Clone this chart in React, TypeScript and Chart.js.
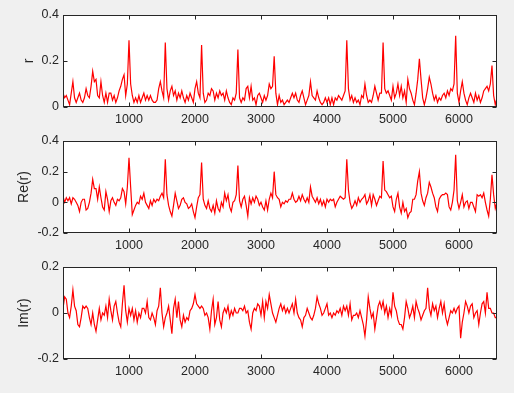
import React, { useEffect, useRef } from "react";
import { Chart, registerables } from "chart.js";

Chart.register(...registerables);

// samples are spaced STEP apart along the x axis (sample index)
const STEP = 25;
const X_MAX = 6576;
const X_TICKS = [1000, 2000, 3000, 4000, 5000, 6000];

const R_TICKS = [0, 0.2, 0.4];
const RE_TICKS = [-0.2, 0, 0.2, 0.4];
const IM_TICKS = [-0.2, 0, 0.2];

// |r|
const R_VALUES = [
  0.06, 0.04, 0.05, 0.03, 0.01, 0.06, 0.11, 0.04, 0.02, 0.04,
  0.06, 0.03, 0.02, 0.04, 0.08, 0.05, 0.04, 0.09, 0.155, 0.11,
  0.12, 0.05, 0.04, 0.11, 0.05, 0.02, 0.06, 0.02, 0.06, 0.06,
  0.03, 0.05, 0.02, 0.04, 0.07, 0.09, 0.12, 0.14, 0.05, 0.10,
  0.29, 0.10, 0.05, 0.02, 0.04, 0.02, 0.05, 0.02, 0.04, 0.06,
  0.03, 0.05, 0.03, 0.05, 0.03, 0.02, 0.02, 0.03, 0.08, 0.11,
  0.07, 0.04, 0.28, 0.08, 0.03, 0.07, 0.09, 0.05, 0.07, 0.03,
  0.06, 0.04, 0.07, 0.04, 0.02, 0.05, 0.03, 0.06, 0.04, 0.02,
  0.08, 0.11, 0.06, 0.04, 0.27, 0.06, 0.02, 0.03, 0.06, 0.05,
  0.08, 0.07, 0.03, 0.06, 0.04, 0.07, 0.05, 0.06, 0.03, 0.07,
  0.04, 0.02, 0.01, 0.04, 0.03, 0.06, 0.25, 0.04, 0.02, 0.04,
  0.03, 0.08, 0.09, 0.04, 0.09, 0.03, 0.04, 0.01, 0.05, 0.06,
  0.04, 0.02, 0.05, 0.03, 0.05, 0.10, 0.08, 0.09, 0.22, 0.06,
  0.01, 0.05, 0.02, 0.03, 0.01, 0.02, 0.03, 0.02, 0.04, 0.06,
  0.04, 0.06, 0.03, 0.02, 0.05, 0.07, 0.04, 0.01, 0.03, 0.05,
  0.11, 0.05, 0.04, 0.03, 0.07, 0.04, 0.02, 0.01, 0.02, 0.04,
  0.02, 0.04, 0.01, 0.04, 0.01, 0.04, 0.03, 0.05, 0.04, 0.03,
  0.05, 0.07, 0.29, 0.08, 0.03, 0.05, 0.02, 0.04, 0.02, 0.03,
  0.01, 0.05, 0.04, 0.10, 0.05, 0.02, 0.03, 0.02, 0.05, 0.09,
  0.06, 0.03, 0.06, 0.06, 0.28, 0.08, 0.06, 0.07, 0.05, 0.03,
  0.09, 0.04, 0.06, 0.10, 0.05, 0.09, 0.04, 0.07, 0.02, 0.12,
  0.08, 0.06, 0.03, 0.01, 0.06, 0.12, 0.21, 0.12, 0.04, 0.01,
  0.04, 0.08, 0.13, 0.10, 0.06, 0.03, 0.05, 0.02, 0.04, 0.03,
  0.05, 0.06, 0.04, 0.07, 0.05, 0.08, 0.07, 0.10, 0.31, 0.06,
  0.02, 0.07, 0.11, 0.06, 0.03, 0.01, 0.04, 0.06, 0.04, 0.02,
  0.06, 0.03, 0.05, 0.02, 0.04, 0.07, 0.08, 0.09, 0.07, 0.10,
  0.18, 0.05, 0.01, 0.04,
];

// Re(r)
const RE_VALUES = [
  0.04, 0.00, 0.03, 0.01, 0.03, -0.01, 0.03, 0.02, 0.00, -0.02,
  -0.06, 0.00, 0.02, 0.02, -0.05, -0.04, 0.00, 0.06, 0.15, 0.09,
  0.09, 0.02, 0.10, 0.03, -0.03, -0.05, 0.07, 0.02, -0.06, 0.01,
  0.03, 0.00, -0.02, 0.02, 0.01, 0.03, 0.09, 0.07, -0.01, 0.10,
  0.29, 0.10, -0.08, -0.05, -0.02, 0.00, -0.01, 0.04, 0.02, 0.06,
  0.00, -0.02, -0.04, 0.01, -0.02, 0.02, 0.00, 0.02, 0.01, 0.04,
  0.06, 0.03, 0.28, 0.05, -0.02, -0.06, -0.09, -0.02, 0.06, 0.01,
  -0.04, -0.02, 0.02, 0.03, 0.00, -0.01, -0.04, -0.03, -0.01, -0.06,
  -0.10, -0.03, 0.03, 0.05, 0.26, 0.02, -0.02, -0.04, 0.01, -0.04,
  -0.06, -0.02, -0.07, 0.01, -0.04, -0.06, 0.00, -0.03, 0.06, 0.01,
  0.05, -0.03, -0.06, 0.00, 0.01, 0.05, 0.24, 0.01, -0.03, 0.02,
  0.04, -0.02, -0.09, 0.03, -0.01, 0.03, 0.00, 0.04, 0.02, -0.02,
  0.00, -0.03, -0.05, 0.01, -0.05, 0.02, 0.06, 0.03, 0.20, 0.05,
  0.03, 0.02, -0.03, 0.00, -0.01, 0.01, 0.00, 0.02, 0.02, 0.06,
  0.02, 0.00, 0.01, 0.04, 0.01, 0.05, 0.02, 0.00, 0.03, 0.00,
  0.10, 0.04, 0.02, 0.00, 0.03, -0.01, 0.02, -0.02, 0.01, -0.03,
  0.02, 0.00, 0.02, 0.01, 0.02, -0.03, 0.00, 0.02, 0.04, 0.03,
  0.02, 0.03, 0.28, 0.08, 0.00, -0.04, -0.02, 0.01, -0.02, 0.03,
  0.00, 0.02, 0.03, 0.05, -0.01, 0.01, 0.05, -0.02, 0.05, 0.02,
  -0.02, 0.01, 0.04, 0.03, 0.27, 0.08, 0.07, 0.05, 0.03, 0.04,
  -0.03, -0.06, 0.02, 0.06, -0.03, -0.07, 0.00, -0.06, -0.04, -0.10,
  -0.07, -0.06, 0.02, 0.02, 0.05, 0.14, 0.20, 0.06, 0.01, -0.02,
  0.03, 0.06, 0.13, 0.10, 0.06, 0.03, -0.03, -0.06, 0.02, 0.04,
  0.05, 0.05, 0.06, 0.05, -0.03, -0.05, 0.00, 0.08, 0.31, 0.01,
  -0.04, 0.00, 0.05, -0.03, 0.00, 0.01, -0.04, 0.00, 0.00, -0.03,
  -0.06, 0.05, 0.04, 0.05, 0.03, 0.06, 0.00, -0.05, -0.09, 0.02,
  0.18, 0.05, -0.04, 0.00,
];

// Im(r)
const IM_VALUES = [
  0.02, 0.07, 0.06, 0.00, -0.02, 0.03, 0.10, 0.03, 0.01, -0.05,
  -0.06, -0.02, 0.03, 0.02, 0.03, 0.02, -0.02, -0.05, 0.00, -0.05,
  -0.08, -0.03, 0.02, -0.03, 0.00, -0.01, 0.03, -0.02, 0.06, 0.01,
  -0.03, 0.03, 0.05, 0.00, -0.04, -0.06, 0.04, 0.12, 0.01, -0.04,
  0.02, -0.01, 0.02, -0.03, 0.01, -0.04, 0.00, -0.02, 0.02, 0.02,
  0.00, 0.05, -0.02, -0.03, 0.00, -0.02, -0.05, 0.01, 0.03, 0.11,
  0.00, -0.06, -0.02, 0.00, 0.03, -0.03, -0.09, 0.02, 0.06, -0.02,
  0.05, -0.03, -0.06, -0.01, -0.04, -0.02, -0.03, 0.01, 0.02, 0.04,
  0.08, 0.04, 0.03, 0.02, 0.03, 0.02, -0.01, 0.00, -0.02, -0.07,
  0.01, 0.06, -0.05, -0.02, 0.05, -0.03, -0.06, 0.00, 0.02, 0.00,
  0.03, -0.02, 0.01, -0.01, 0.02, 0.00, 0.00, 0.02, 0.02, 0.01,
  0.03, 0.00, 0.01, -0.04, -0.07, 0.00, 0.02, 0.01, 0.04, 0.03,
  -0.01, 0.05, -0.02, 0.05, 0.02, 0.08, 0.04, 0.00, -0.02, -0.04,
  -0.01, 0.02, 0.04, 0.01, 0.03, 0.00, 0.02, 0.00, 0.02, 0.04,
  0.00, 0.06, 0.00, -0.02, -0.03, -0.06, -0.02, -0.01, 0.02, 0.00,
  -0.02, -0.03, -0.01, 0.02, 0.07, 0.04, 0.02, -0.01, 0.00, 0.02,
  0.04, -0.01, 0.00, -0.02, 0.00, -0.01, 0.01, 0.00, 0.02, -0.01,
  0.03, 0.01, 0.03, -0.01, 0.04, -0.03, -0.01, -0.01, 0.00, -0.02,
  0.01, -0.02, -0.05, -0.10, -0.03, 0.07, 0.02, -0.02, 0.00, -0.07,
  -0.02, 0.03, 0.05, 0.02, 0.05, 0.00, 0.03, -0.02, 0.02, -0.01,
  0.09, 0.03, 0.01, -0.03, -0.05, -0.05, -0.07, -0.02, 0.05, 0.02,
  -0.02, 0.00, 0.03, -0.02, 0.05, 0.02, 0.00, -0.03, -0.01, 0.01,
  0.02, 0.11, 0.02, -0.01, 0.04, 0.01, 0.03, -0.02, 0.02, 0.05,
  0.00, 0.04, -0.02, -0.05, -0.02, 0.01, 0.00, 0.02, 0.00, 0.02,
  0.03, -0.11, -0.04, 0.00, 0.05, 0.03, 0.00, 0.03, 0.04, -0.02,
  0.00, 0.01, -0.05, 0.00, 0.04, 0.05, 0.00, 0.09, 0.02, 0.02,
  0.00, 0.00, -0.02, -0.02,
];

const AXIS_COLOR = "#262626";
const LINE_COLOR = "#ff0000";
const FONT_FAMILY = "'Liberation Sans', Arial, Helvetica, sans-serif";

const CANVAS_W = 514;
const CANVAS_H = 131;

function sampleX(i: number): number {
  return Math.min(i * STEP, X_MAX);
}

function fmt(v: number): string {
  const n = Number(Number(v).toFixed(1));
  return n === 0 ? "0" : String(n);
}

const boxPlugin = {
  id: "matlabBox",
  beforeDatasetsDraw(chart: any) {
    const { ctx, chartArea } = chart;
    ctx.save();
    ctx.fillStyle = "#ffffff";
    ctx.fillRect(
      chartArea.left,
      chartArea.top,
      chartArea.right - chartArea.left,
      chartArea.bottom - chartArea.top
    );
    ctx.restore();
  },
  afterDatasetsDraw(chart: any) {
    const { ctx, chartArea, scales } = chart;
    const L = Math.round(chartArea.left) + 0.5;
    const R = Math.round(chartArea.right) - 0.5;
    const T = Math.round(chartArea.top) + 0.5;
    const B = Math.round(chartArea.bottom) - 0.5;
    const tl = 4;
    ctx.save();
    ctx.strokeStyle = AXIS_COLOR;
    ctx.lineWidth = 1;
    ctx.strokeRect(L, T, R - L, B - T);
    ctx.beginPath();
    scales.x.ticks.forEach((t: any) => {
      const px = Math.round(scales.x.getPixelForValue(t.value)) + 0.5;
      ctx.moveTo(px, B);
      ctx.lineTo(px, B - tl);
      ctx.moveTo(px, T);
      ctx.lineTo(px, T + tl);
    });
    scales.y.ticks.forEach((t: any) => {
      const py = Math.round(scales.y.getPixelForValue(t.value)) + 0.5;
      ctx.moveTo(L, py);
      ctx.lineTo(L + tl, py);
      ctx.moveTo(R, py);
      ctx.lineTo(R - tl, py);
    });
    ctx.stroke();
    ctx.restore();
  },
};

type PanelProps = {
  values: number[];
  yTicks: number[];
  label: string;
  labelPad: number;
  top: number;
};

function Panel({ values, yTicks, label, labelPad, top }: PanelProps) {
  const ref = useRef<HTMLCanvasElement | null>(null);

  useEffect(() => {
    if (!ref.current) return;
    const chart = new Chart(ref.current, {
      type: "line",
      data: {
        datasets: [
          {
            data: values.map((v, i) => ({ x: sampleX(i), y: v })),
            borderColor: LINE_COLOR,
            borderWidth: 1.2,
            pointRadius: 0,
            fill: false,
            tension: 0,
          },
        ],
      },
      options: {
        animation: false,
        responsive: false,
        events: [],
        layout: { padding: { left: 0, right: 17, top: 15, bottom: 0 } },
        plugins: {
          legend: { display: false },
          tooltip: { enabled: false },
        },
        scales: {
          x: {
            type: "linear",
            min: 0,
            max: X_MAX,
            afterBuildTicks: (s: any) => {
              s.ticks = X_TICKS.map((v) => ({ value: v }));
            },
            afterFit: (s: any) => {
              s.height = 24;
            },
            grid: { display: false, drawTicks: false },
            border: { display: false },
            ticks: {
              color: AXIS_COLOR,
              font: { family: FONT_FAMILY, size: 12.5 },
              padding: 5,
              autoSkip: false,
              maxRotation: 0,
              callback: (v: any) => String(v),
            },
          },
          y: {
            type: "linear",
            min: yTicks[0],
            max: yTicks[yTicks.length - 1],
            afterBuildTicks: (s: any) => {
              s.ticks = yTicks.map((v) => ({ value: v }));
            },
            afterFit: (s: any) => {
              s.width = 63;
            },
            grid: { display: false, drawTicks: false },
            border: { display: false },
            ticks: {
              color: AXIS_COLOR,
              font: { family: FONT_FAMILY, size: 12.5 },
              padding: 4,
              autoSkip: false,
              callback: (v: any) => fmt(v),
            },
            title: {
              display: true,
              text: label,
              color: AXIS_COLOR,
              font: { family: FONT_FAMILY, size: 14 },
              padding: { top: labelPad, bottom: 0 },
            },
          },
        },
      } as any,
      plugins: [boxPlugin],
    });
    return () => chart.destroy();
  }, [values, yTicks, label, labelPad]);

  return (
    <canvas
      ref={ref}
      width={CANVAS_W}
      height={CANVAS_H}
      style={{
        position: "absolute",
        left: 0,
        top,
        width: CANVAS_W,
        height: CANVAS_H,
      }}
    />
  );
}

export default function App() {
  return (
    <div
      style={{
        position: "absolute",
        left: 0,
        top: 0,
        width: 514,
        height: 393,
        background: "#f0f0f0",
        overflow: "hidden",
      }}
    >
      <Panel values={R_VALUES} yTicks={R_TICKS} label="r" labelPad={21} top={0} />
      <Panel values={RE_VALUES} yTicks={RE_TICKS} label="Re(r)" labelPad={16} top={126} />
      <Panel values={IM_VALUES} yTicks={IM_TICKS} label="Im(r)" labelPad={16} top={252} />
    </div>
  );
}
